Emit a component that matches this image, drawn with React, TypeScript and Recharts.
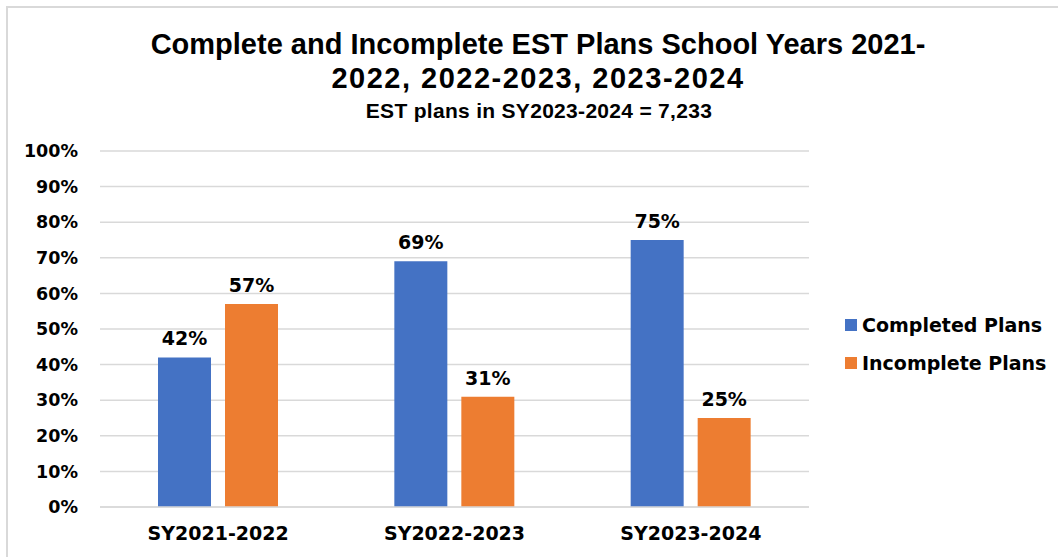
import React from "react";
import { BarChart, Bar, XAxis, YAxis, CartesianGrid, LabelList } from "recharts";

const categories = ["SY2021-2022", "SY2022-2023", "SY2023-2024"];
const completed = [42, 69, 75];
const incomplete = [57, 31, 25];
const yTicks = [0, 10, 20, 30, 40, 50, 60, 70, 80, 90, 100];
const seriesNames = ["Completed Plans", "Incomplete Plans"];
const seriesColors = ["#4472C4", "#ED7D31"];

const data = categories.map((c, i) => ({ name: c, completed: completed[i], incomplete: incomplete[i] }));

const FONT = '"Liberation Sans", Arial, sans-serif';
const WIDE = '"DejaVu Sans", Verdana, sans-serif';

export default function App() {
  return (
    <div style={{ position: "absolute", left: 0, top: 0, width: 1058, height: 557, overflow: "hidden", background: "#fff" }}>
      <div style={{ position: "absolute", left: 6, top: 6, width: 1100, height: 600, border: "2px solid #d9d9d9" }} />
      <div style={{ position: "absolute", left: 0, top: 27, width: 1076, textAlign: "center", fontFamily: FONT, fontWeight: 700, fontSize: 29, lineHeight: "34px", color: "#000" }}>
        <div>Complete and Incomplete EST Plans School Years 2021-</div>
        <div style={{ letterSpacing: 1.5 }}>2022, 2022-2023, 2023-2024</div>
      </div>
      <div style={{ position: "absolute", left: 0, top: 99, width: 1078, textAlign: "center", fontFamily: FONT, fontWeight: 700, fontSize: 21, letterSpacing: 0.3, color: "#000" }}>
        EST plans in SY2023-2024 = 7,233
      </div>
      <div style={{ position: "absolute", left: 0, top: 0 }}>
        <BarChart width={1058} height={557} data={data} margin={{ top: 151, right: 249, bottom: 0, left: 0 }} barGap={14} barSize={53}>
          <CartesianGrid vertical={false} stroke="#d9d9d9" strokeWidth={1.5} />
          <XAxis
            dataKey="name"
            height={50}
            tickLine={false}
            axisLine={{ stroke: "#d9d9d9", strokeWidth: 1.5 }}
            tickSize={0}
            tickMargin={20}
            tick={{ fill: "#000", fontSize: 19, fontWeight: 700, fontFamily: WIDE }}
          />
          <YAxis
            width={100}
            domain={[0, 100]}
            ticks={yTicks}
            interval={0}
            tickFormatter={(v: number) => `${v}%`}
            axisLine={false}
            tickLine={false}
            tickSize={0}
            tickMargin={22}
            tick={{ fill: "#000", fontSize: 17.5, fontWeight: 700, fontFamily: WIDE }}
          />
          <Bar dataKey="completed" name={seriesNames[0]} fill={seriesColors[0]} isAnimationActive={false}>
            <LabelList dataKey="completed" position="top" offset={12} formatter={(v: number) => `${v}%`} fill="#000" fontSize={19} fontWeight={700} fontFamily={WIDE} />
          </Bar>
          <Bar dataKey="incomplete" name={seriesNames[1]} fill={seriesColors[1]} isAnimationActive={false}>
            <LabelList dataKey="incomplete" position="top" offset={12} formatter={(v: number) => `${v}%`} fill="#000" fontSize={19} fontWeight={700} fontFamily={WIDE} />
          </Bar>
        </BarChart>
      </div>
      <div style={{ position: "absolute", left: 845, top: 306, width: 213, fontFamily: WIDE }}>
        {seriesNames.map((n, i) => (
          <div key={n} style={{ display: "flex", alignItems: "center", height: 38 }}>
            <span style={{ display: "inline-block", width: 12, height: 12, background: seriesColors[i], marginRight: 5 }} />
            <span style={{ fontSize: 19, fontWeight: 700, color: "#000", whiteSpace: "nowrap" }}>{n}</span>
          </div>
        ))}
      </div>
    </div>
  );
}
